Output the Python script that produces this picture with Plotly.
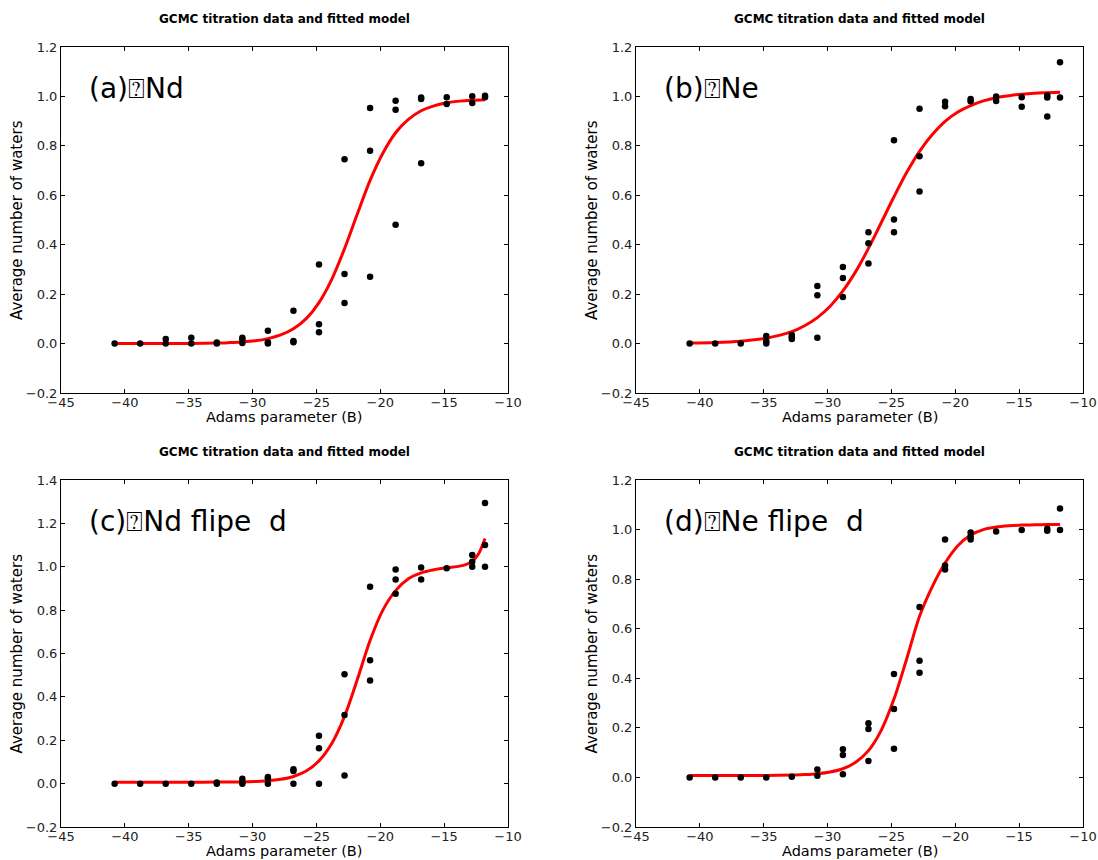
import plotly.graph_objects as go

# ---------------- data ----------------
# Adams parameter values of the titration points
B_a = [-40.8, -38.8, -36.8, -36.8, -34.8, -34.8, -32.8, -32.8, -30.8, -30.8, -30.8,
       -28.8, -28.8, -28.8, -26.8, -26.8, -26.8, -24.8, -24.8, -24.8,
       -22.8, -22.8, -22.8, -20.8, -20.8, -20.8, -18.8, -18.8, -18.8,
       -16.8, -16.8, -16.8, -14.8, -14.8, -12.8, -12.8, -11.8, -11.8]
N_a = [0.0, 0.0, 0.019, 0.0, 0.024, 0.0, 0.004, 0.0, 0.024, 0.016, 0.002,
       0.052, 0.005, 0.0, 0.133, 0.010, 0.005, 0.320, 0.078, 0.046,
       0.746, 0.282, 0.164, 0.953, 0.780, 0.270, 0.983, 0.946, 0.481,
       0.996, 0.990, 0.730, 0.997, 0.969, 1.001, 0.973, 1.003, 0.997]

B_b = [-40.8, -38.8, -36.8, -34.8, -34.8, -34.8, -32.8, -32.8, -32.8,
       -30.8, -30.8, -30.8, -28.8, -28.8, -28.8, -26.8, -26.8, -26.8,
       -24.8, -24.8, -24.8, -22.8, -22.8, -22.8, -20.8, -20.8,
       -18.8, -18.8, -16.8, -16.8, -14.8, -14.8, -12.8, -12.8, -12.8, -11.8, -11.8]
N_b = [0.0, 0.0, 0.0, 0.031, 0.009, 0.0, 0.035, 0.026, 0.018,
       0.233, 0.196, 0.024, 0.310, 0.265, 0.188, 0.450, 0.406, 0.324,
       0.823, 0.502, 0.450, 0.950, 0.758, 0.615, 0.978, 0.960,
       0.990, 0.980, 1.000, 0.982, 0.997, 0.958, 1.004, 0.996, 0.919, 1.138, 0.996]

B_c = [-40.8, -38.8, -36.8, -34.8, -32.8, -32.8, -30.8, -30.8, -30.8,
       -28.8, -28.8, -28.8, -26.8, -26.8, -26.8, -24.8, -24.8, -24.8,
       -22.8, -22.8, -22.8, -20.8, -20.8, -20.8, -18.8, -18.8, -18.8,
       -16.8, -16.8, -14.8, -12.8, -12.8, -12.8, -11.8, -11.8, -11.8]
N_c = [0.0, 0.0, 0.0, 0.0, 0.005, 0.0, 0.022, 0.009, 0.0,
       0.031, 0.025, 0.0, 0.066, 0.058, 0.0, 0.221, 0.163, 0.0,
       0.504, 0.317, 0.037, 0.908, 0.569, 0.475, 0.987, 0.941, 0.876,
       0.997, 0.941, 0.993, 1.054, 1.023, 1.000, 1.294, 1.100, 1.000]

B_d = [-40.8, -38.8, -36.8, -34.8, -32.8, -30.8, -30.8,
       -28.8, -28.8, -28.8, -26.8, -26.8, -26.8, -24.8, -24.8, -24.8,
       -22.8, -22.8, -22.8, -20.8, -20.8, -20.8, -18.8, -18.8, -18.8,
       -16.8, -14.8, -12.8, -12.8, -11.8, -11.8]
N_d = [0.0, 0.0, 0.0, 0.0, 0.003, 0.032, 0.007,
       0.114, 0.090, 0.013, 0.219, 0.195, 0.066, 0.417, 0.276, 0.116,
       0.688, 0.471, 0.422, 0.960, 0.855, 0.839, 0.988, 0.972, 0.960,
       0.992, 0.998, 1.003, 0.995, 1.085, 0.998]

# fitted model curves
Bfit = [-40.8, -38.8, -36.8, -34.8, -32.8, -31.8, -30.8, -29.8, -28.8, -27.8, -26.8,
        -25.8, -24.8, -23.8, -22.8, -21.8, -20.8, -19.8, -18.8, -17.8, -16.8,
        -15.8, -14.8, -13.8, -12.8, -11.8]
fit_a = [0.0, 0.0, 0.0002, 0.0007, 0.002, 0.004, 0.0064, 0.011, 0.020, 0.035, 0.060,
         0.101, 0.166, 0.260, 0.384, 0.524, 0.660, 0.770, 0.853, 0.907, 0.942,
         0.962, 0.974, 0.981, 0.985, 0.987]
fit_b = [0.002, 0.004, 0.0095, 0.0217, 0.048, 0.072, 0.105, 0.151, 0.213, 0.291, 0.385,
         0.489, 0.594, 0.693, 0.778, 0.846, 0.899, 0.937, 0.963, 0.982, 0.995,
         1.003, 1.009, 1.013, 1.015, 1.017]
Bfit_c = [-40.8, -38.8, -36.8, -34.8, -32.8, -31.8, -30.8, -29.8, -28.8, -27.8, -26.8,
          -25.8, -24.8, -23.8, -22.8, -21.8, -20.8, -19.8, -18.8, -17.8, -16.8,
          -15.8, -14.8, -13.8, -13.3, -12.8, -12.3, -11.8]
fit_c = [0.006, 0.006, 0.006, 0.006, 0.007, 0.0075, 0.008, 0.010, 0.013, 0.020, 0.033,
         0.058, 0.105, 0.185, 0.310, 0.480, 0.660, 0.800, 0.890, 0.945, 0.972,
         0.986, 0.995, 1.003, 1.010, 1.025, 1.060, 1.130]
fit_d = [0.008, 0.008, 0.008, 0.008, 0.010, 0.0115, 0.015, 0.022, 0.035, 0.061, 0.108,
         0.190, 0.316, 0.479, 0.650, 0.770, 0.865, 0.935, 0.978, 1.000, 1.010,
         1.015, 1.018, 1.019, 1.020, 1.020]

panel_labels = ["(a)\u2370Nd", "(b)\u2370Ne", "(c)\u2370Nd flipe  d", "(d)\u2370Ne flipe  d"]
y_ranges = [[-0.2, 1.2], [-0.2, 1.2], [-0.2, 1.4], [-0.2, 1.2]]
y_ticks = [[-0.2, 0.0, 0.2, 0.4, 0.6, 0.8, 1.0, 1.2],
           [-0.2, 0.0, 0.2, 0.4, 0.6, 0.8, 1.0, 1.2],
           [-0.2, 0.0, 0.2, 0.4, 0.6, 0.8, 1.0, 1.2, 1.4],
           [-0.2, 0.0, 0.2, 0.4, 0.6, 0.8, 1.0, 1.2]]
x_ticks = [-45, -40, -35, -30, -25, -20, -15, -10]
title_text = "GCMC titration data and fitted model"
xlabel = "Adams parameter (B)"
ylabel = "Average number of waters"

# ---------------- figure ----------------
W, H = 1098, 860
FONT = "DejaVu Sans, Verdana, sans-serif"
xdoms = [[61 / W, 508 / W], [636 / W, 1083 / W]]
ydoms = [[1 - 393 / H, 1 - 47 / H], [1 - 827 / H, 1 - 480 / H]]

fig = go.Figure()
scatters = [(B_a, N_a, Bfit, fit_a), (B_b, N_b, Bfit, fit_b),
            (B_c, N_c, Bfit_c, fit_c), (B_d, N_d, Bfit, fit_d)]

layout = dict(width=W, height=H, autosize=False, margin=dict(l=0, r=0, t=0, b=0, pad=0),
              paper_bgcolor="white", plot_bgcolor="white", showlegend=False,
              font=dict(family=FONT, color="black"))
annotations = []
for i, (bx, ny, bf, yf) in enumerate(scatters):
    r, c = divmod(i, 2)
    n = i + 1
    xa = "x" if n == 1 else f"x{n}"
    ya = "y" if n == 1 else f"y{n}"
    fig.add_trace(go.Scatter(x=bf, y=yf, mode="lines", line=dict(color="#ff0000", width=3, shape="spline", smoothing=0.8),
                             xaxis=xa, yaxis=ya, hoverinfo="skip"))
    fig.add_trace(go.Scatter(x=bx, y=ny, mode="markers", marker=dict(color="black", size=6.5),
                             xaxis=xa, yaxis=ya))
    axcommon = dict(showgrid=False, zeroline=False, showline=True, linecolor="black", linewidth=1,
                    mirror="allticks", ticks="inside", ticklen=4, tickcolor="black", automargin=False,
                    tickfont=dict(size=13, family=FONT, color="#222"))
    layout[f"xaxis{'' if n == 1 else n}"] = dict(axcommon, domain=xdoms[c], range=[-45, -10],
                                                  tickvals=x_ticks, anchor=ya, ticklabelstandoff=-3)
    layout[f"yaxis{'' if n == 1 else n}"] = dict(axcommon, domain=ydoms[r], range=y_ranges[i],
                                                  tickvals=y_ticks[i], tickformat=".1f", anchor=xa)
    xc = (xdoms[c][0] + xdoms[c][1]) / 2
    top = ydoms[r][1]
    bot = ydoms[r][0]
    annotations.append(dict(text=f"<b>{title_text}</b>", x=xc, y=top + 28 / H, xref="paper", yref="paper",
                            showarrow=False, xanchor="center", yanchor="middle",
                            font=dict(size=12, family=FONT, color="black")))
    annotations.append(dict(text=xlabel, x=xc, y=bot - 33 / H, xref="paper", yref="paper",
                            showarrow=False, xanchor="center", yanchor="bottom", borderpad=0,
                            font=dict(size=14.5, family=FONT, color="black")))
    annotations.append(dict(text=ylabel, x=xdoms[c][0] - 44 / W, y=(top + bot) / 2, xref="paper", yref="paper",
                            showarrow=False, xanchor="center", yanchor="middle", textangle=-90,
                            font=dict(size=15, family=FONT, color="black")))
    annotations.append(dict(text=panel_labels[i], x=xdoms[c][0] + 26 / W, y=top - 41 / H,
                            xref="paper", yref="paper", showarrow=False, xanchor="left", yanchor="middle",
                            font=dict(size=28, family=FONT, color="black")))

layout["annotations"] = annotations
fig.update_layout(**layout)
fig.write_html("out.html")
